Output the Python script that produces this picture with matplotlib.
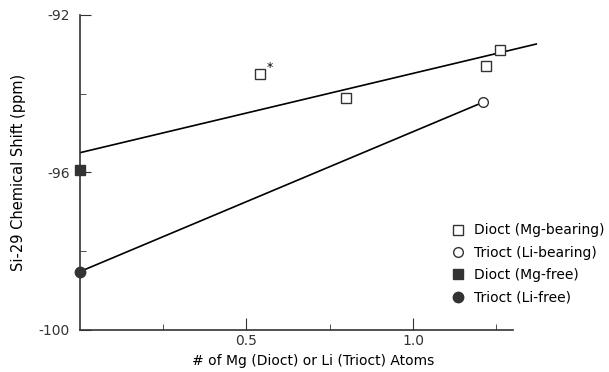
import matplotlib.pyplot as plt
from matplotlib.ticker import FixedLocator, FuncFormatter

plt.rcParams['font.family'] = ['DejaVu Sans']
plt.rcParams['axes.unicode_minus'] = False

# Dioct (Mg-bearing), open squares
dioct_mg_x = [0.54, 0.80, 1.22, 1.26]
dioct_mg_y = [-93.5, -94.1, -93.31, -92.89]
# Trioct (Li-bearing), open circle
trioct_li_x = [1.21]
trioct_li_y = [-94.22]
# Dioct (Mg-free), filled square
dioct_free_x = [0.0]
dioct_free_y = [-95.95]
# Trioct (Li-free), filled circle
trioct_free_x = [0.0]
trioct_free_y = [-98.52]

# fitted lines
dioct_line_x = [0.0, 1.37]
dioct_line_y = [-95.5, -92.74]
trioct_line_x = [0.0, 1.21]
trioct_line_y = [-98.52, -94.22]

fig = plt.figure(figsize=(6.09, 3.72), dpi=100)
ax = fig.add_axes([0.131, 0.113, 0.766, 0.847])

ax.plot(dioct_line_x, dioct_line_y, 'k-', lw=1.2, zorder=1)
ax.plot(trioct_line_x, trioct_line_y, 'k-', lw=1.2, zorder=1)

ax.plot(dioct_mg_x, dioct_mg_y, 's', ms=7, mfc='white', mec='#333333', mew=1.0,
        ls='none', zorder=3, label='Dioct (Mg-bearing)')
ax.plot(trioct_li_x, trioct_li_y, 'o', ms=7, mfc='white', mec='#333333', mew=1.0,
        ls='none', zorder=3, label='Trioct (Li-bearing)')
ax.plot(dioct_free_x, dioct_free_y, 's', ms=6.5, mfc='#333333', mec='#333333',
        ls='none', zorder=3, clip_on=False, label='Dioct (Mg-free)')
ax.plot(trioct_free_x, trioct_free_y, 'o', ms=7.5, mfc='#333333', mec='#333333',
        ls='none', zorder=3, clip_on=False, label='Trioct (Li-free)')

ax.annotate('*', (dioct_mg_x[0], dioct_mg_y[0]), xytext=(5, 2),
            textcoords='offset points', fontsize=9)

ax.set_xlim(0, 1.4)
ax.set_ylim(-100, -92)
ax.spines['top'].set_visible(False)
ax.spines['right'].set_visible(False)
ax.spines['bottom'].set_bounds(0, 1.3)

ax.xaxis.set_major_locator(FixedLocator([0.5, 1.0]))
ax.xaxis.set_minor_locator(FixedLocator([0.25, 0.75, 1.25]))
ax.yaxis.set_major_locator(FixedLocator([-100, -96, -92]))
ax.yaxis.set_minor_locator(FixedLocator([-98, -94]))
ax.xaxis.set_major_formatter(FuncFormatter(lambda v, p: '%.1f' % v))
ax.yaxis.set_major_formatter(FuncFormatter(lambda v, p: '%d' % v))

ax.tick_params(which='both', direction='in', labelsize=10, colors='#333333')
ax.tick_params(axis='x', which='major', length=9, pad=3)
ax.tick_params(axis='x', which='minor', length=4)
ax.tick_params(axis='y', which='major', length=8, pad=7)
ax.tick_params(axis='y', which='minor', length=4)
for s in ax.spines.values():
    s.set_color('#333333')
    s.set_linewidth(1.2)

ax.set_xlabel('# of Mg (Dioct) or Li (Trioct) Atoms', fontsize=10, labelpad=4)
ax.set_ylabel('Si-29 Chemical Shift (ppm)', fontsize=10.5, labelpad=9)

ax.legend(loc='upper left', bbox_to_anchor=(0.795, 0.338), frameon=False,
          fontsize=10, handletextpad=0.7, labelspacing=0.6, handlelength=1.0,
          borderaxespad=0, borderpad=0)

fig.savefig('out.png', dpi=100)
